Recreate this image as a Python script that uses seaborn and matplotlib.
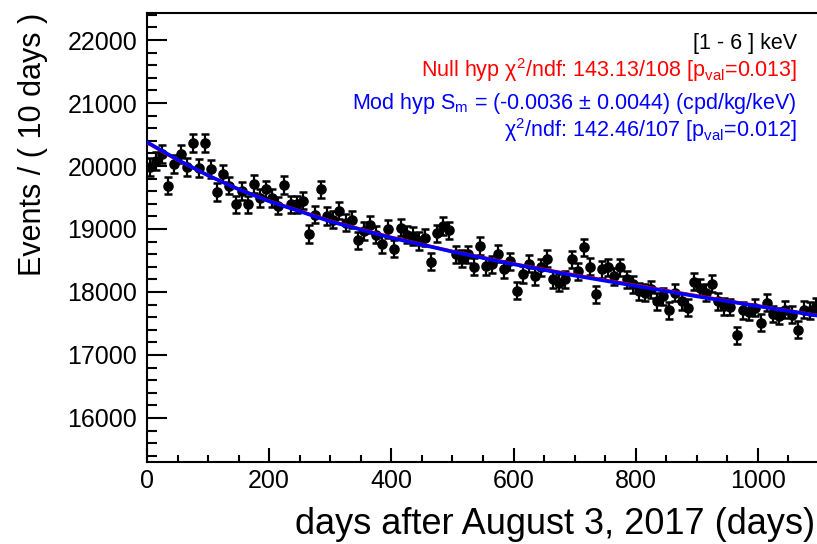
import numpy as np
import pandas as pd
import matplotlib
matplotlib.use("Agg")
import matplotlib.pyplot as plt
import seaborn as sns
from matplotlib.ticker import MultipleLocator

# ---- data ----
days = np.arange(5, 1100, 10)  # 10-day bin centres
counts = [19980, 20080, 20190, 19690, 20030, 20190, 19990, 20360, 19970, 20360,
          19950, 19590, 19880, 19690, 19390, 19600, 19390, 19720, 19490, 19630,
          19490, 19370, 19700, 19390, 19390, 19450, 18920, 19230, 19630, 19210,
          19150, 19290, 19100, 19150, 18820, 18970, 19070, 18910, 18760, 19000,
          18690, 19020, 18910, 18890, 18810, 18860, 18480, 18930, 19050, 18980,
          18600, 18530, 18600, 18400, 18730, 18410, 18440, 18610, 18360, 18490,
          18020, 18280, 18450, 18250, 18390, 18530, 18200, 18150, 18200, 18520,
          18330, 18710, 18400, 17960, 18360, 18390, 18250, 18390, 18200, 18120,
          18010, 17990, 18040, 17850, 17930, 17710, 17990, 17850, 17750, 18160,
          18070, 17990, 18130, 17850, 17770, 17760, 17310, 17710, 17680, 17750,
          17510, 17830, 17650, 17620, 17720, 17640, 17400, 17720, 17700, 17770]
errors = np.sqrt(counts)  # Poisson errors of the counts

fit_days = [0, 50, 100, 150, 200, 300, 400, 500, 600, 700, 800, 900, 1000, 1100]
mod_fit = [20380, 20100, 19850, 19630, 19440, 19120, 18860, 18640, 18440, 18260,
           18095, 17930, 17775, 17620]
null_fit = [20370, 20095, 19850, 19632, 19445, 19128, 18868, 18645, 18448, 18270,
            18105, 17940, 17780, 17625]

x_ticks = [0, 200, 400, 600, 800, 1000]
y_ticks = [16000, 17000, 18000, 19000, 20000, 21000, 22000]

df = pd.DataFrame({"days": days, "counts": counts})
fit_df = pd.DataFrame({"days": fit_days, "mod": mod_fit, "null": null_fit})

# ---- style ----
sns.set_theme(style="ticks")
plt.rcParams['font.family'] = ['Liberation Sans', 'DejaVu Sans']
plt.rcParams['mathtext.fontset'] = 'custom'
plt.rcParams['mathtext.rm'] = 'Liberation Sans'
plt.rcParams['mathtext.it'] = 'Liberation Sans:italic'
plt.rcParams['mathtext.bf'] = 'Liberation Sans:bold'
plt.rcParams['text.color'] = 'black'
plt.rcParams['axes.labelcolor'] = 'black'

fig = plt.figure(figsize=(8.17, 5.44), dpi=100)
W, H = 817, 544
ax = fig.add_axes([147 / W, (H - 462) / H, (819 - 147) / W, (462 - 13) / H])

ax.errorbar(df["days"], df["counts"], yerr=errors, fmt='none', ecolor='black',
            elinewidth=1.6, capsize=2.8, capthick=1.8, zorder=2)
sns.scatterplot(data=df, x="days", y="counts", color='black', s=58,
                edgecolor='black', linewidth=0, ax=ax, zorder=3, legend=False)
sns.lineplot(data=fit_df, x="days", y="null", color='red', lw=2.4, ax=ax, zorder=4)
sns.lineplot(data=fit_df, x="days", y="mod", color='blue', lw=2.6, ax=ax, zorder=5)

ax.set_xlim(0, 1100)
ax.set_ylim(15300, 22430)
ax.set_xticks(x_ticks)
ax.set_yticks(y_ticks)
ax.xaxis.set_minor_locator(MultipleLocator(50))
ax.yaxis.set_minor_locator(MultipleLocator(200))
ax.tick_params(axis='both', which='both', direction='in', color='black', width=1.5,
               labelsize=18, labelcolor='black')
ax.tick_params(axis='x', which='major', length=10, pad=5)
ax.tick_params(axis='x', which='minor', length=5)
ax.tick_params(axis='y', which='major', length=14.5, pad=7)
ax.tick_params(axis='y', which='minor', length=7)
for s in ax.spines.values():
    s.set_linewidth(1.5)
    s.set_color('black')

ax.set_xlabel("days after August 3, 2017 (days)", fontsize=26, ha='right', color='black')
ax.xaxis.set_label_coords((815 - 147) / (819 - 147), -(524 - 462) / (462 - 13))
ax.xaxis.label.set_va('center')
ax.set_ylabel("Events / ( 10 days )", fontsize=22, loc='top', labelpad=14, color='black')

tx = 797 / W
fs = 15.5
fig.text(tx, 1 - 43 / H, "[1 - 6 ] keV", ha='right', va='center', fontsize=fs, color='black')
fig.text(tx, 1 - 70 / H, r"Null hyp χ$^{2}$/ndf: 143.13/108 [p$_{\rm val}$=0.013]",
         ha='right', va='center', fontsize=fs, color='red')
fig.text(tx, 1 - 104 / H, r"Mod hyp S$_{\rm m}$ = (-0.0036 $\pm$ 0.0044) (cpd/kg/keV)",
         ha='right', va='center', fontsize=fs, color='blue')
fig.text(tx, 1 - 130 / H, r"χ$^{2}$/ndf: 142.46/107 [p$_{\rm val}$=0.012]",
         ha='right', va='center', fontsize=fs, color='blue')

fig.savefig("out.png", dpi=100)
